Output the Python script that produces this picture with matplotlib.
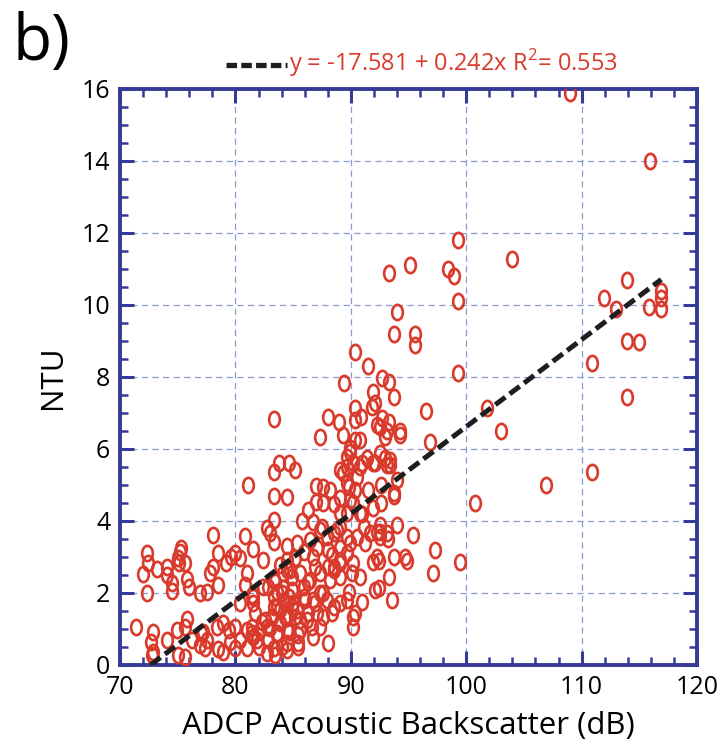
import matplotlib
matplotlib.use("Agg")
import matplotlib.pyplot as plt
from matplotlib.path import Path
from matplotlib.lines import Line2D
from matplotlib.ticker import MultipleLocator
import numpy as np

plt.rcParams['font.family'] = ['Open Sans', 'DejaVu Sans']
plt.rcParams['mathtext.fontset'] = 'custom'
plt.rcParams['mathtext.rm'] = 'Open Sans'

# ADCP backscatter (dB) and turbidity (NTU)
adcp_db = [
    # sparse, high values
    109.0, 115.9, 99.3, 104.0, 93.3, 95.1, 98.4, 98.9, 99.3, 94.0, 93.7, 95.6, 95.6, 99.3,
    113.9, 111.9, 113.0, 115.8, 116.9, 116.9, 116.9, 113.9, 115.0, 110.9, 113.9, 101.8,
    103.0, 96.5, 96.9, 93.7, 93.3, 92.7, 94.3, 94.3, 93.3, 90.4, 91.5, 89.4,
    # right, lower
    100.8, 106.9, 110.9, 99.5, 97.3, 97.1, 95.4, 94.0, 94.0, 93.7, 94.9, 94.7, 93.7, 92.3,
    93.3, 92.4, 93.6, 91.0, 91.9, 92.4,
    92.1, 93.0, 93.4, 91.0, 92.6, 92.6, 91.9, 91.5, 91.0, 92.5, 92.5, 91.7, 93.2, 91.2,
    # upper middle
    83.3, 87.3, 88.0, 89.0, 89.3, 89.9, 90.4, 90.4, 90.9, 90.4, 90.8, 91.8, 92.1, 91.9,
    92.7, 92.5, 93.1, 92.3,
    # middle
    81.1, 83.3, 83.8, 84.6, 85.2, 83.3, 84.5, 87.0, 87.6, 87.0, 87.6, 88.5, 89.1, 86.3,
    85.8, 83.3, 82.7, 83.0, 83.3, 80.8, 81.5, 84.5, 85.3, 86.5, 87.5, 86.7, 88.8, 89.7,
    89.1, 88.0, 89.1, 89.7, 90.2, 89.3, 89.8, 90.4, 89.9, 89.1,
    88.2, 89.7, 90.5, 90.8, 89.7, 91.4, 91.9, 92.5, 93.0, 89.9, 90.8, 90.2, 89.7, 89.1,
    88.5, 87.9, 87.3, 84.5, 85.2, 93.7, 93.4, 93.1, 90.5, 91.1, 92.5, 93.1, 92.3,
    # lower middle
    80.8, 81.4, 81.5, 81.7, 81.0, 81.4, 81.0, 81.9, 82.3, 82.7, 83.2, 83.6, 82.8, 83.6,
    84.0, 82.7, 83.4, 84.5, 84.5, 84.3, 84.3, 84.0, 84.9, 85.0, 85.2, 85.4, 85.6, 86.2,
    85.9, 86.3, 85.6, 84.9, 84.5, 83.9, 83.4, 82.8, 83.3, 86.7, 87.1, 87.3, 86.7, 88.0,
    87.6, 88.2, 87.3, 86.7, 85.9, 87.1, 88.4, 88.5, 89.1, 88.5, 89.1, 89.7, 90.2, 89.8,
    89.1, 89.7, 89.9, 90.2, 90.1, 90.8, 92.1,
    81.5, 81.4, 81.5, 82.0, 82.1, 82.6, 83.0, 83.3, 83.6, 83.9, 83.9, 83.3, 83.6, 84.1,
    84.6, 84.9, 84.5, 84.6, 84.5, 85.4, 85.4, 85.6, 85.3, 86.0, 85.9, 86.5, 86.3, 86.6,
    86.9, 87.3, 87.9, 87.6, 88.4, 88.0, 88.5, 89.1, 86.9, 84.7, 84.1, 83.3, 82.4, 81.0,
    80.4, 80.4, 90.4, 90.2,
    # left group
    72.0, 72.4, 72.3, 73.2, 74.1, 74.1, 74.5, 74.5, 75.1, 75.6, 75.8, 76.0, 76.9, 77.5,
    77.8, 78.1, 78.5, 79.2, 71.4, 72.9, 72.7, 72.9, 72.8, 74.1, 74.9, 75.8, 75.6, 75.0,
    75.6, 76.2, 77.2, 77.5, 77.4, 78.4, 78.9, 79.4, 78.5, 78.9, 80.0, 79.5, 80.0,
    72.3, 75.2, 75.3, 75.0, 78.5, 78.1, 79.6, 80.0, 80.4, 82.4, 76.9, 77.0,
]
ntu = [
    15.9, 14.0, 11.8, 11.28, 10.9, 11.1, 11.0, 10.8, 10.1, 9.8, 9.2, 9.2, 8.9, 8.1,
    10.7, 10.2, 9.9, 9.95, 10.4, 10.2, 9.9, 9.0, 8.97, 8.4, 7.45, 7.15,
    6.5, 7.05, 6.2, 7.45, 7.85, 7.97, 6.5, 6.4, 6.75, 8.69, 8.31, 7.83,
    4.5, 5.0, 5.35, 2.85, 3.2, 2.55, 3.6, 3.9, 5.15, 4.7, 2.9, 3.0, 3.0, 3.0,
    2.45, 2.15, 1.8, 1.75, 2.85, 2.9,
    5.6, 5.75, 5.55, 5.6, 5.0, 4.5, 4.35, 4.85, 4.2, 3.9, 3.7, 3.67, 3.5, 3.4,
    6.83, 6.33, 6.89, 6.75, 6.39, 6.03, 6.81, 7.14, 6.89, 6.25, 6.25, 7.17, 7.28, 7.58,
    6.86, 6.61, 6.5, 6.67,
    5.0, 5.36, 5.6, 5.6, 5.42, 4.69, 4.67, 4.97, 4.94, 4.53, 4.5, 4.47, 4.64, 4.31,
    4.0, 4.03, 3.8, 3.67, 3.42, 3.58, 3.22, 3.31, 3.39, 3.47, 3.83, 3.97, 3.75, 3.56,
    3.25, 3.19, 5.42, 5.5, 5.6, 5.33, 4.94, 4.86, 4.58, 4.22,
    4.86, 5.06, 5.22, 5.5, 5.78, 5.75, 5.6, 5.89, 6.33, 5.92, 4.22, 4.5, 4.22, 3.83,
    3.67, 3.56, 3.75, 2.92, 2.97, 4.78, 5.69, 5.56, 3.56, 3.83, 3.56, 3.67, 3.69,
    2.22, 1.94, 1.72, 1.44, 0.97, 0.89, 0.47, 0.69, 1.19, 1.06, 1.33, 1.61, 0.69, 0.89,
    0.5, 0.33, 0.28, 0.42, 0.97, 1.33, 1.72, 2.0, 2.08, 1.72, 1.33, 0.61, 0.97, 1.25,
    1.89, 2.31, 2.56, 2.44, 2.64, 2.78, 2.31, 2.17, 1.89, 1.81, 1.44, 1.06, 0.78, 0.61,
    2.0, 2.36, 2.56, 3.0, 3.14, 3.25, 3.06, 2.72, 2.44, 1.61, 1.72, 1.81, 1.33, 2.03,
    2.92, 3.1, 3.39, 2.83, 2.56, 2.44, 2.08,
    1.89, 1.06, 0.78, 0.5, 0.97, 1.25, 1.03, 0.47, 0.83, 1.17, 1.53, 1.61, 2.03, 2.14,
    1.89, 1.61, 1.31, 0.92, 0.61, 0.5, 0.83, 1.25, 1.53, 1.81, 2.17, 2.36, 1.44, 1.06,
    1.72, 2.0, 1.81, 1.33, 1.44, 2.72, 2.64, 2.83, 2.72, 2.64, 2.56, 2.36, 2.17, 2.56,
    1.72, 0.69, 1.44, 1.06,
    2.53, 2.83, 2.0, 2.67, 2.72, 2.5, 2.27, 2.06, 2.83, 2.83, 2.4, 2.17, 2.0, 2.03,
    2.56, 2.72, 2.22, 2.83, 1.06, 0.92, 0.64, 0.36, 0.28, 0.7, 0.97, 1.28, 1.06, 0.28,
    0.22, 0.7, 0.92, 0.7, 0.47, 1.06, 1.17, 0.97, 0.44, 0.36, 1.06, 0.64, 0.47,
    3.1, 3.14, 3.25, 2.97, 3.1, 3.6, 3.0, 3.12, 2.97, 2.92, 0.56, 0.9,
]

# regression reported on the chart
intercept = -17.581
slope = 0.242
r2 = 0.553

navy = '#353a96'
red = '#d93a2b'

fig = plt.figure(figsize=(7.2, 7.47), dpi=100)
ax = fig.add_axes([0.1667, 0.1098, 0.8014, 0.7711])

# open ellipse marker, taller than wide
circ = Path.unit_circle()
ellipse = Path(circ.vertices * np.array([0.7, 1.0]), circ.codes)
ax.plot(adcp_db, ntu, linestyle='none', marker=ellipse, markersize=11,
        markerfacecolor='none', markeredgecolor=red, markeredgewidth=1.9, zorder=3)

xfit = np.array([min(adcp_db), max(adcp_db)])
ax.plot(xfit, intercept + slope * xfit, color='#1e1e1e', lw=3.6,
        linestyle=(0, (2.5, 1.1)), zorder=4)

ax.set_xlim(70, 120)
ax.set_ylim(0, 16)
ax.xaxis.set_major_locator(MultipleLocator(10))
ax.xaxis.set_minor_locator(MultipleLocator(2))
ax.yaxis.set_major_locator(MultipleLocator(2))
ax.yaxis.set_minor_locator(MultipleLocator(0.5))
ax.tick_params(which='both', direction='in', top=True, right=True, color=navy,
               labelsize=18, labelcolor='black')
ax.tick_params(which='major', length=10, width=2.2, pad=7)
ax.tick_params(which='minor', length=5.5, width=1.8)
for s in ax.spines.values():
    s.set_color(navy)
    s.set_linewidth(2.8)
ax.grid(True, which='major', color='#8b98d4', linestyle=(0, (5, 3.5)), lw=0.9)
ax.set_axisbelow(True)

ax.set_xlabel('ADCP Acoustic Backscatter (dB)', fontsize=22.5, labelpad=8)
ax.set_ylabel('NTU', fontsize=22.5, labelpad=10)

fig.text(0.018, 0.985, 'b)', fontsize=46, va='top', ha='left')
fig.add_artist(Line2D([226 / 720, 287 / 720], [1 - 65 / 747] * 2, transform=fig.transFigure,
                      color='#1e1e1e', lw=3.8, linestyle=(0, (2.0, 0.8))))
fig.text(289 / 720, 1 - 63 / 747,
         'y = %.3f + %.3fx R$^2$= %.3f' % (intercept, slope, r2),
         color=red, fontsize=17, va='center', ha='left')

fig.savefig('out.png', dpi=100)
